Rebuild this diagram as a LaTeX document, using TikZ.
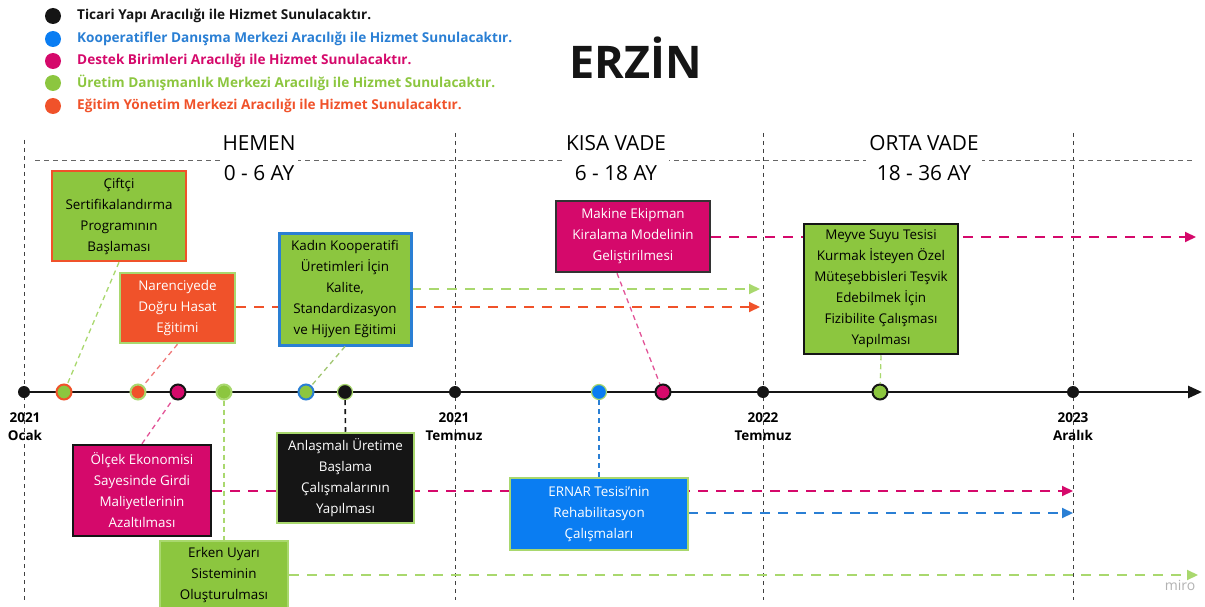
\documentclass[tikz,border=0pt]{standalone}
\usepackage{fontspec}
\setmainfont{Open Sans}
\usetikzlibrary{arrows.meta}
\definecolor{cgreen}{HTML}{8CC63F}
\definecolor{lgreen}{HTML}{A9D86E}
\definecolor{corange}{HTML}{F0522A}
\definecolor{cmag}{HTML}{D5096B}
\definecolor{cblue}{HTML}{0A7DF2}
\definecolor{tblue}{HTML}{2A7FD4}
\definecolor{cblack}{HTML}{151515}
\begin{document}
\begin{tikzpicture}[x=1pt,y=-1pt,
  box/.style={draw, line width=2.5pt, align=center, inner sep=2pt,
    font=\fontsize{13.4}{21}\selectfont},
  flow/.style={line width=2pt, dash pattern=on 10pt off 8pt,
    -{Triangle[length=11pt,width=10pt]}},
  link/.style={line width=1.3pt, dash pattern=on 5pt off 4pt},
  vline/.style={line width=0.9pt, dash pattern=on 4pt off 4pt, black!75},
  bdot/.style={circle, fill=cblack, inner sep=0pt, minimum size=12pt},
  cdot/.style={circle, draw, line width=2pt, inner sep=0pt, minimum size=15pt},
  ldot/.style={circle, inner sep=0pt, minimum size=16pt},
  legend/.style={anchor=west, inner sep=0pt, font=\fontsize{13.6}{15}\bfseries\selectfont},
  phase/.style={fill=white, align=center, inner sep=3pt, font=\fontsize{20.8}{30}\selectfont},
  lbl/.style={align=center, inner sep=0pt, font=\fontsize{13.5}{18}\bfseries\selectfont}
]
\useasboundingbox (0,0) rectangle (1205,607);

% legend
\node[ldot, fill=cblack] (g1) at (53,16) {};
\node[legend, text=cblack] (t1) at (77,16) {Ticari Yapı Aracılığı ile Hizmet Sunulacaktır.};
\node[ldot, fill=cblue] (g2) at (53,39) {};
\node[legend, text=tblue] (t2) at (77,39) {Kooperatifler Danışma Merkezi Aracılığı ile Hizmet Sunulacaktır.};
\node[ldot, fill=cmag] (g3) at (53,61) {};
\node[legend, text=cmag] (t3) at (77,61) {Destek Birimleri Aracılığı ile Hizmet Sunulacaktır.};
\node[ldot, fill=cgreen] (g4) at (53,83) {};
\node[legend, text=cgreen] (t4) at (77,83) {Üretim Danışmanlık Merkezi Aracılığı ile Hizmet Sunulacaktır.};
\node[ldot, fill=corange] (g5) at (53,106) {};
\node[legend, text=corange] (t5) at (77,106) {Eğitim Yönetim Merkezi Aracılığı ile Hizmet Sunulacaktır.};

% title
\node[font=\fontsize{45}{50}\bfseries\selectfont, text=cblack] (title) at (636,58) {ERZİN};

% vertical guide lines
\coordinate (v1t) at (24,140);  \coordinate (v1b) at (24,600);
\coordinate (v2t) at (455,133); \coordinate (v2b) at (455,600);
\coordinate (v3t) at (763,133); \coordinate (v3b) at (763,600);
\coordinate (v4t) at (1073,133); \coordinate (v4b) at (1073,600);
\draw[vline] (v1t) -- (v1b);
\draw[vline] (v2t) -- (v2b);
\draw[vline] (v3t) -- (v3b);
\draw[vline] (v4t) -- (v4b);

% phase line
\coordinate (hl) at (35,160); \coordinate (hr) at (1192,160);
\draw[line width=0.9pt, dash pattern=on 5pt off 4pt, black!60] (hl) -- (hr);
\node[phase] (p1) at (259,158) {HEMEN\\0 - 6 AY};
\node[phase] (p2) at (616,158) {KISA VADE\\6 - 18 AY};
\node[phase] (p3) at (924,158) {ORTA VADE\\18 - 36 AY};

% arrow ends
\coordinate (e2) at (760,307);
\coordinate (e3) at (760,289);
\coordinate (e4) at (1196,237);
\coordinate (e6) at (1073,491);
\coordinate (e9) at (1073,513);
\coordinate (e7) at (1198,575);

% timeline
\coordinate (ts) at (20,392); \coordinate (te) at (1202,392);
\draw[line width=2.6pt, cblack, -{Triangle[length=14pt,width=12pt]}] (ts) -- (te);

% black dots
\node[bdot] (m1) at (24,392) {};
\node[bdot] (m2) at (455,392) {};
\node[bdot] (m3) at (763,392) {};
\node[bdot] (m4) at (1073,392) {};

% coloured dots
\node[cdot, fill=cgreen, draw=corange] (d1) at (64,392) {};
\node[cdot, fill=corange, draw=lgreen] (d2) at (138,392) {};
\node[cdot, fill=cmag, draw=cblack] (d3) at (178,392) {};
\node[cdot, fill=cgreen, draw=lgreen] (d4) at (224,392) {};
\node[cdot, fill=cgreen, draw=tblue] (d5) at (306,392) {};
\node[cdot, fill=cblack, draw=lgreen, line width=1.2pt] (d6) at (345,392) {};
\node[cdot, fill=cblue, draw=lgreen, line width=1.2pt] (d7) at (599,392) {};
\node[cdot, fill=cmag, draw=cblack] (d8) at (663,392) {};
\node[cdot, fill=cgreen, draw=cblack] (d9) at (880,392) {};

% axis labels
\node[lbl] (l1) at (25,427) {2021\\Ocak};
\node[lbl] (l2) at (454,427) {2021\\Temmuz};
\node[lbl] (l3) at (763,427) {2022\\Temmuz};
\node[lbl] (l4) at (1073,427) {2023\\Aralık};

% boxes not crossed by arrows
\node[box, fill=cgreen, draw=corange, minimum width=134pt, minimum height=90pt] (b1) at (119,216)
  {Çiftçi\\Sertifikalandırma\\Programının\\Başlaması};
\node[box, fill=corange, draw=lgreen, text=white, minimum width=115pt, minimum height=70pt] (b2) at (177.5,308)
  {Narenciyede\\Doğru Hasat\\Eğitimi};
\node[box, fill=cmag, draw=black!80, text=white, minimum width=154pt, minimum height=71pt] (b4) at (633,236.5)
  {Makine Ekipman\\Kiralama Modelinin\\Geliştirilmesi};
\node[box, fill=cmag, draw=cblack, text=white, minimum width=138pt, minimum height=91pt] (b6) at (142,490.5)
  {Ölçek Ekonomisi\\Sayesinde Girdi\\Maliyetlerinin\\Azaltılması};
\node[box, fill=cgreen, draw=lgreen, minimum width=128pt, minimum height=68pt] (b7) at (224,575)
  {Erken Uyarı\\Sisteminin\\Oluşturulması};
\coordinate (b3e) at (411,289);
\coordinate (b9e) at (688,513);

% horizontal duration arrows (drawn before the boxes they pass behind)
\draw[flow, corange] (b2.east |- e2) -- (e2);
\draw[flow, lgreen] (b3e) -- (e3);
\draw[flow, cmag] (b4.east |- e4) -- (e4);
\draw[flow, cmag] (b6.east |- e6) -- (e6);
\draw[flow, tblue] (b9e) -- (e9);
\draw[flow, lgreen] (b7.east |- e7) -- (e7);

% boxes over the arrows
\node[box, fill=cgreen, draw=tblue, line width=3pt, minimum width=132pt, minimum height=112pt] (b3) at (345,289)
  {Kadın Kooperatifi\\Üretimleri İçin\\Kalite,\\Standardizasyon\\ve Hijyen Eğitimi};
\node[box, fill=cgreen, draw=cblack, minimum width=154pt, minimum height=130pt] (b5) at (881,289)
  {Meyve Suyu Tesisi\\Kurmak İsteyen Özel\\Müteşebbisleri Teşvik\\Edebilmek İçin\\Fizibilite Çalışması\\Yapılması};
\node[box, fill=cblack, draw=lgreen, text=white, minimum width=137pt, minimum height=90pt] (b8) at (345.5,478)
  {Anlaşmalı Üretime\\Başlama\\Çalışmalarının\\Yapılması};
\node[box, fill=cblue, draw=lgreen, text=white, minimum width=178pt, minimum height=72pt] (b9) at (599,514)
  {ERNAR Tesisi'nin\\Rehabilitasyon\\Çalışmaları};

% connectors box -- dot
\draw[link, lgreen] (b1.south) -- (d1);
\draw[link, corange!70!cmag!70] (b2.south) -- (d2);
\draw[link, lgreen!80!gray] (b3.south) -- (d5);
\draw[link, cmag!70] ([xshift=-16pt]b4.south) -- (d8);
\draw[link, lgreen] (b5.south) -- (d9);
\draw[link, cmag!70] (b6.north) -- (d3);
\draw[link, lgreen] (d4) -- (b7.north);
\draw[link, cblack, line width=1.6pt] (d6) -- (b8.north);
\draw[link, tblue] (d7) -- (b9.north);

% watermark
\node[text=black!30, font=\fontsize{14}{16}\selectfont] (miro) at (1180,585) {miro};
\end{tikzpicture}
\end{document}
